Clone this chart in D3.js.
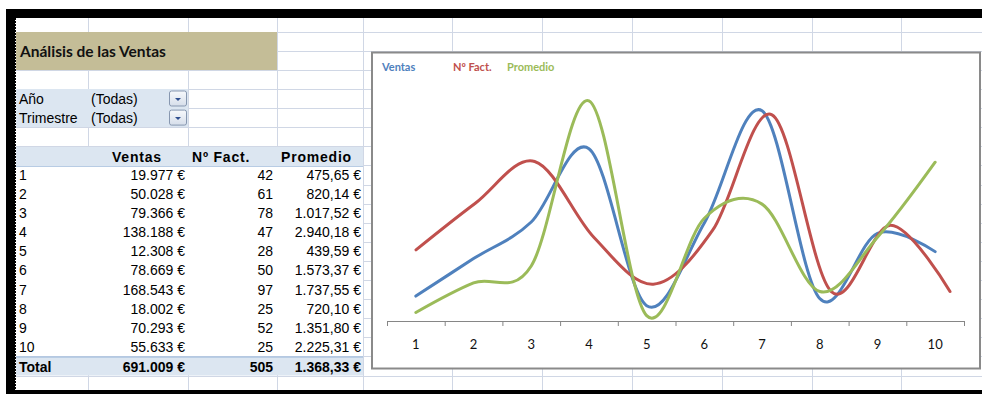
<!DOCTYPE html>
<html>
<head>
<meta charset="utf-8">
<script src="https://cdn.jsdelivr.net/npm/d3@7"></script>
<style>
body { margin: 0; background: #fff; }
svg { display: block; }
</style>
</head>
<body>
<div id="chart"></div>
<script>
// datos de la tabla dinámica
let meses = ["1", "2", "3", "4", "5", "6", "7", "8", "9", "10"];
let ventas = [19977, 50028, 79366, 138188, 12308, 78669, 168543, 18002, 70293, 55633];
let facturas = [42, 61, 78, 47, 28, 50, 97, 25, 52, 25];
let promedio = [475.65, 820.14, 1017.52, 2940.18, 439.59, 1573.37, 1737.55, 720.10, 1351.80, 2225.31];
let totales = [691009, 505, 1368.33];
let cabeceras = ["Ventas", "Nº Fact.", "Promedio"];
let filtros = [["Año", "(Todas)"], ["Trimestre", "(Todas)"]];
let titulo = "Análisis de las Ventas";

let width = 982;
let height = 394;

const es = d3.formatLocale({decimal: ",", thousands: ".", grouping: [3], currency: ["", " €"]});
const fEuro0 = es.format("$,.0f");
const fEuro2 = es.format("$,.2f");
const fInt = es.format(",.0f");

const colores = {ventas: "#4F81BD", fact: "#C0504D", prom: "#9BBB59"};
const rejilla = "#D0D7E5";

// columnas y filas de la hoja
const cols = [16, 88, 188, 277, 363, 452, 542, 632, 722, 812, 901, 991];
const fila0 = 12.6, altoFila = 19.1;
const filaY = i => fila0 + altoFila * i;

var svg = d3.select("#chart")
    .append("svg")
    .attr("width", width)
    .attr("height", height);

svg.append("rect").attr("width", width).attr("height", height).attr("fill", "#fff");

// rejilla de la hoja
let g = svg.append("g").attr("shape-rendering", "crispEdges");
g.selectAll("line.v").data(cols.slice(1)).join("line")
    .attr("x1", d => d + 0.5).attr("x2", d => d + 0.5)
    .attr("y1", 18).attr("y2", 390)
    .attr("stroke", rejilla);
g.selectAll("line.h").data(d3.range(1, 20)).join("line")
    .attr("x1", 16).attr("x2", width)
    .attr("y1", d => Math.round(filaY(d)) + 0.5).attr("y2", d => Math.round(filaY(d)) + 0.5)
    .attr("stroke", rejilla);

// título
svg.append("rect")
    .attr("x", 16).attr("y", Math.round(filaY(1)))
    .attr("width", cols[3] - 16).attr("height", Math.round(filaY(3)) - Math.round(filaY(1)))
    .attr("fill", "#C4BD97");
svg.append("text")
    .attr("x", 20).attr("y", 56.5)
    .attr("font-family", "Lato, 'Liberation Sans', sans-serif")
    .attr("font-weight", "bold").attr("font-size", 15.5)
    .attr("fill", "#111")
    .text(titulo);

// filtros
svg.append("rect")
    .attr("x", 16).attr("y", Math.round(filaY(4)))
    .attr("width", cols[2] - 16).attr("height", Math.round(filaY(6)) - Math.round(filaY(4)))
    .attr("fill", "#DCE6F1");

let defs = svg.append("defs");
let grad = defs.append("linearGradient").attr("id", "btn").attr("x1", 0).attr("x2", 0).attr("y1", 0).attr("y2", 1);
grad.append("stop").attr("offset", "0%").attr("stop-color", "#F7F9FC");
grad.append("stop").attr("offset", "100%").attr("stop-color", "#D6DEEA");

let filtro = svg.selectAll("g.filtro").data(filtros).join("g")
    .attr("transform", (d, i) => `translate(0,${filaY(4 + i)})`);
filtro.append("text").attr("x", 19).attr("y", 14.5)
    .attr("font-family", "'Liberation Sans', Arial, sans-serif").attr("font-size", 14)
    .text(d => d[0]);
filtro.append("text").attr("x", 91).attr("y", 14.5)
    .attr("font-family", "'Liberation Sans', Arial, sans-serif").attr("font-size", 14)
    .text(d => d[1]);
filtro.append("rect")
    .attr("x", 169.5).attr("y", 2).attr("width", 17).attr("height", 15).attr("rx", 2)
    .attr("fill", "url(#btn)").attr("stroke", "#8797B0");
filtro.append("path")
    .attr("d", "M175,9 L181,9 L178,12 Z")
    .attr("fill", "#2F4F8F");

// tabla dinámica
let tx = {ventas: 185, fact: 273, prom: 361};
svg.append("rect")
    .attr("x", 16).attr("y", 147)
    .attr("width", cols[4] - 16).attr("height", 19)
    .attr("fill", "#DCE6F1");
svg.append("rect")
    .attr("x", 16).attr("y", 166)
    .attr("width", cols[4] - 16).attr("height", 190)
    .attr("fill", "#fff");
svg.append("line")
    .attr("x1", 16).attr("x2", cols[4]).attr("y1", 166.5).attr("y2", 166.5)
    .attr("stroke", "#B8CCE4");

svg.selectAll("text.cab").data(cabeceras).join("text")
    .attr("class", "cab")
    .attr("x", (d, i) => [112, 192, 281][i]).attr("y", 162)
    .attr("font-family", "'Liberation Sans', Arial, sans-serif")
    .attr("font-weight", "bold").attr("font-size", 14)
    .attr("letter-spacing", 0.8)
    .text(d => d);

let filas = svg.selectAll("g.fila").data(meses).join("g")
    .attr("class", "fila")
    .attr("transform", (d, i) => `translate(0,${filaY(8) + altoFila * i})`)
    .attr("font-family", "'Liberation Sans', Arial, sans-serif")
    .attr("font-size", 14);
filas.append("text").attr("x", 19).attr("y", 14.5).text(d => d);
filas.append("text").attr("x", tx.ventas).attr("y", 14.5).attr("text-anchor", "end")
    .text((d, i) => fEuro0(ventas[i]));
filas.append("text").attr("x", tx.fact).attr("y", 14.5).attr("text-anchor", "end")
    .text((d, i) => fInt(facturas[i]));
filas.append("text").attr("x", tx.prom).attr("y", 14.5).attr("text-anchor", "end")
    .text((d, i) => fEuro2(promedio[i]));

// fila de total
let yTot = 356.5;
svg.append("rect")
    .attr("x", 16).attr("y", yTot)
    .attr("width", cols[4] - 16).attr("height", 19)
    .attr("fill", "#DCE6F1");
svg.append("line")
    .attr("x1", 16).attr("x2", cols[4]).attr("y1", yTot + 0.5).attr("y2", yTot + 0.5)
    .attr("stroke", "#95B3D7");
let tot = svg.append("g")
    .attr("transform", `translate(0,${yTot})`)
    .attr("font-family", "'Liberation Sans', Arial, sans-serif")
    .attr("font-weight", "bold").attr("font-size", 14);
tot.append("text").attr("x", 19).attr("y", 15).text("Total");
tot.append("text").attr("x", tx.ventas).attr("y", 15).attr("text-anchor", "end").text(fEuro0(totales[0]));
tot.append("text").attr("x", tx.fact).attr("y", 15).attr("text-anchor", "end").text(fInt(totales[1]));
tot.append("text").attr("x", tx.prom).attr("y", 15).attr("text-anchor", "end").text(fEuro2(totales[2]));

// marco negro y línea de salto de página
svg.append("rect").attr("x", 6).attr("y", 9).attr("width", width - 6).attr("height", 9).attr("fill", "#000");
svg.append("rect").attr("x", 6).attr("y", 9).attr("width", 9).attr("height", height - 9).attr("fill", "#000");
svg.append("rect").attr("x", 6).attr("y", 390).attr("width", width - 6).attr("height", 4).attr("fill", "#000");
svg.append("line")
    .attr("x1", 15.5).attr("x2", 15.5).attr("y1", 18).attr("y2", 390)
    .attr("stroke", "#000").attr("stroke-dasharray", "2,1");

// gráfico
let chart = svg.append("g");
chart.append("rect")
    .attr("x", 372).attr("y", 52.5)
    .attr("width", 608).attr("height", 316)
    .attr("fill", "#fff")
    .attr("stroke", "#8A8A8A").attr("stroke-width", 2);

let xScale = d3.scaleBand().domain(meses).range([387, 964]);
let xFact = d3.scalePoint().domain(meses).range([416, 950]);
let xEdge = d3.scaleLinear().domain([0, meses.length]).range([387, 964]);
let ejeY = 321;

let yVentas = d3.scaleLinear().domain([0, 200000]).range([ejeY, 71.6]);
let yFact = d3.scaleLinear().domain([13, 114.6]).range([ejeY, 71.6]);
let yProm = d3.scaleLinear().domain([377, 3280]).range([ejeY, 71.6]);

// eje de categorías
chart.append("g")
    .attr("transform", `translate(0,${ejeY})`)
    .call(d3.axisBottom(xEdge).tickValues(d3.range(0, meses.length + 1)).tickSize(5).tickFormat(""))
    .call(a => a.select(".domain").attr("stroke", "#868686"))
    .call(a => a.selectAll(".tick line").attr("stroke", "#868686"));
chart.append("g")
    .attr("transform", `translate(0,${ejeY})`)
    .call(d3.axisBottom(xScale).tickSize(0).tickPadding(19))
    .call(a => a.select(".domain").remove())
    .call(a => a.selectAll("text")
        .attr("font-family", "Lato, 'Liberation Sans', sans-serif")
        .attr("font-size", 13).attr("fill", "#111"));

let xc = d => xScale(d) + xScale.bandwidth() / 2;
let curva = d3.curveCardinal.tension(0);

let lineas = [
    {nombre: cabeceras[0], valores: ventas, y: yVentas, x: xc, color: colores.ventas},
    {nombre: cabeceras[1], valores: facturas, y: yFact, x: d => xFact(d), color: colores.fact},
    {nombre: cabeceras[2], valores: promedio, y: yProm, x: xc, color: colores.prom}
];

lineas.forEach(s => {
    let line = d3.line()
        .x((d, i) => s.x(meses[i]))
        .y(d => s.y(d))
        .curve(curva);
    chart.append("path")
        .datum(s.valores)
        .attr("d", line)
        .attr("fill", "none")
        .attr("stroke", s.color)
        .attr("stroke-width", 3)
        .attr("stroke-linecap", "round");
});

// leyenda
chart.selectAll("text.leyenda").data(lineas).join("text")
    .attr("class", "leyenda")
    .attr("x", (d, i) => [382, 453, 507][i]).attr("y", 70.5)
    .attr("font-family", "Lato, 'Liberation Sans', sans-serif")
    .attr("font-weight", "bold").attr("font-size", 11)
    .attr("fill", d => d.color)
    .text(d => d.nombre);
</script>
</body>
</html>
